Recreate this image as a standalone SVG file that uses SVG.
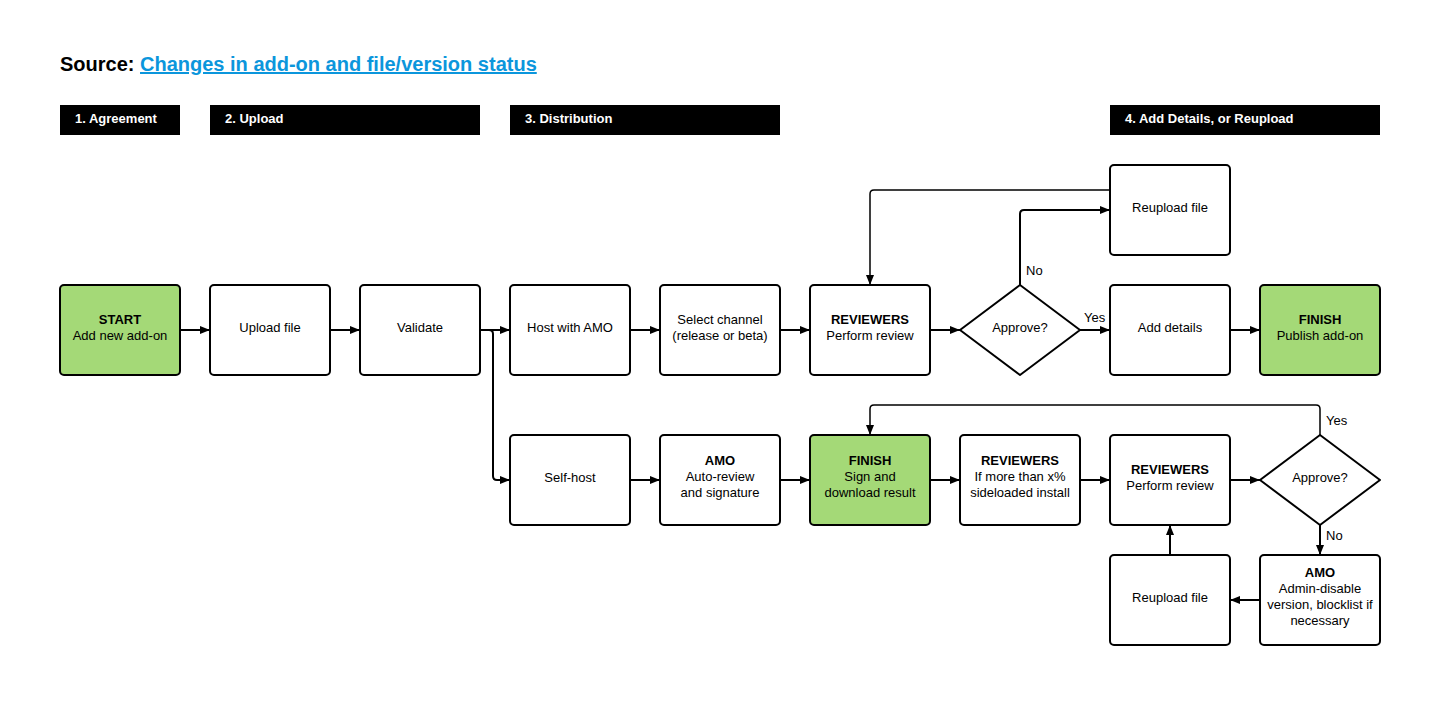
<svg xmlns="http://www.w3.org/2000/svg" width="1440" height="705" viewBox="0 0 1440 705">
<style>
.bg{fill:#ffffff}
.box{fill:#ffffff;stroke:#000000;stroke-width:2}
.green{fill:#a4d977}
.hdr{fill:#000000}
.hdrt{font-family:"Liberation Sans",Arial,sans-serif;font-size:13px;font-weight:bold;fill:#ffffff}
.t{font-family:"Liberation Sans",Arial,sans-serif;font-size:13px;fill:#000000;text-anchor:middle}
.b{font-weight:bold}
.lbl{font-family:"Liberation Sans",Arial,sans-serif;font-size:13px;fill:#000000}
.c{fill:none;stroke:#000000;stroke-width:2;stroke-linejoin:round}
.thin{stroke-width:1.5}
.title{font-family:"Liberation Sans",Arial,sans-serif;font-size:20px;font-weight:bold}
</style>
<defs>
<marker id="ah" viewBox="0 0 10 10" refX="10" refY="5" markerWidth="10" markerHeight="10" markerUnits="userSpaceOnUse" orient="auto">
<path d="M0,1 L10,5 L0,9 Z" fill="#000000"/>
</marker>
</defs>
<rect class="bg" x="0" y="0" width="1440" height="705"/>
<g id="title">
<text class="title" x="60" y="71"><tspan fill="#000000">Source: </tspan><tspan fill="#0b96dc" text-decoration="underline">Changes in add-on and file/version status</tspan></text>
</g>
<g id="headers">
<rect class="hdr" x="60" y="105" width="120" height="30"/>
<text class="hdrt" x="75" y="123">1. Agreement</text>
<rect class="hdr" x="210" y="105" width="270" height="30"/>
<text class="hdrt" x="225" y="123">2. Upload</text>
<rect class="hdr" x="510" y="105" width="270" height="30"/>
<text class="hdrt" x="525" y="123">3. Distribution</text>
<rect class="hdr" x="1110" y="105" width="270" height="30"/>
<text class="hdrt" x="1125" y="123">4. Add Details, or Reupload</text>
</g>
<g id="connectors">
<path class="c" d="M180,330 H210" marker-end="url(#ah)"/>
<path class="c" d="M330,330 H360" marker-end="url(#ah)"/>
<path class="c" d="M480,330 H510" marker-end="url(#ah)"/>
<path class="c" d="M480,330 H489 Q493,330 493,334 V476 Q493,480 497,480 H510" marker-end="url(#ah)"/>
<path class="c" d="M630,330 H660" marker-end="url(#ah)"/>
<path class="c" d="M780,330 H810" marker-end="url(#ah)"/>
<path class="c" d="M930,330 H960" marker-end="url(#ah)"/>
<path class="c" d="M1080,330 H1110" marker-end="url(#ah)"/>
<path class="c" d="M1230,330 H1260" marker-end="url(#ah)"/>
<path class="c" d="M1020,285 V214 Q1020,210 1024,210 H1110" marker-end="url(#ah)"/>
<path class="c thin" d="M1110,190 H874 Q870,190 870,194 V285" marker-end="url(#ah)"/>
<path class="c" d="M630,480 H660" marker-end="url(#ah)"/>
<path class="c" d="M780,480 H810" marker-end="url(#ah)"/>
<path class="c" d="M930,480 H960" marker-end="url(#ah)"/>
<path class="c" d="M1080,480 H1110" marker-end="url(#ah)"/>
<path class="c" d="M1230,480 H1260" marker-end="url(#ah)"/>
<path class="c thin" d="M1320,435 V409 Q1320,405 1316,405 H874 Q870,405 870,409 V435" marker-end="url(#ah)"/>
<path class="c" d="M1320,525 V555" marker-end="url(#ah)"/>
<path class="c" d="M1260,600 H1230" marker-end="url(#ah)"/>
<path class="c" d="M1170,555 V525" marker-end="url(#ah)"/>
<text class="lbl" x="1026" y="275">No</text>
<text class="lbl" x="1084" y="322">Yes</text>
<text class="lbl" x="1326" y="425">Yes</text>
<text class="lbl" x="1326" y="540">No</text>
</g>
<g id="start">
<rect class="box green" x="60" y="285" width="120" height="90" rx="4"/>
<text class="t b" x="120" y="324">START</text>
<text class="t" x="120" y="340">Add new add-on</text>
</g>
<g id="upload">
<rect class="box" x="210" y="285" width="120" height="90" rx="4"/>
<text class="t" x="270" y="332">Upload file</text>
</g>
<g id="validate">
<rect class="box" x="360" y="285" width="120" height="90" rx="4"/>
<text class="t" x="420" y="332">Validate</text>
</g>
<g id="host">
<rect class="box" x="510" y="285" width="120" height="90" rx="4"/>
<text class="t" x="570" y="332">Host with AMO</text>
</g>
<g id="channel">
<rect class="box" x="660" y="285" width="120" height="90" rx="4"/>
<text class="t" x="720" y="324">Select channel</text>
<text class="t" x="720" y="340">(release or beta)</text>
</g>
<g id="reviewers1">
<rect class="box" x="810" y="285" width="120" height="90" rx="4"/>
<text class="t b" x="870" y="324">REVIEWERS</text>
<text class="t" x="870" y="340">Perform review</text>
</g>
<g id="approve1">
<path class="box" d="M1020,285 L1080,330 L1020,375 L960,330 Z" stroke-linejoin="round"/>
<text class="t" x="1020" y="332">Approve?</text>
</g>
<g id="reupload1">
<rect class="box" x="1110" y="165" width="120" height="90" rx="4"/>
<text class="t" x="1170" y="212">Reupload file</text>
</g>
<g id="details">
<rect class="box" x="1110" y="285" width="120" height="90" rx="4"/>
<text class="t" x="1170" y="332">Add details</text>
</g>
<g id="publish">
<rect class="box green" x="1260" y="285" width="120" height="90" rx="4"/>
<text class="t b" x="1320" y="324">FINISH</text>
<text class="t" x="1320" y="340">Publish add-on</text>
</g>
<g id="selfhost">
<rect class="box" x="510" y="435" width="120" height="90" rx="4"/>
<text class="t" x="570" y="482">Self-host</text>
</g>
<g id="autoreview">
<rect class="box" x="660" y="435" width="120" height="90" rx="4"/>
<text class="t b" x="720" y="465">AMO</text>
<text class="t" x="720" y="481">Auto-review</text>
<text class="t" x="720" y="497">and signature</text>
</g>
<g id="sign">
<rect class="box green" x="810" y="435" width="120" height="90" rx="4"/>
<text class="t b" x="870" y="465">FINISH</text>
<text class="t" x="870" y="481">Sign and</text>
<text class="t" x="870" y="497">download result</text>
</g>
<g id="sideloaded">
<rect class="box" x="960" y="435" width="120" height="90" rx="4"/>
<text class="t b" x="1020" y="465">REVIEWERS</text>
<text class="t" x="1020" y="481">If more than x%</text>
<text class="t" x="1020" y="497">sideloaded install</text>
</g>
<g id="reviewers2">
<rect class="box" x="1110" y="435" width="120" height="90" rx="4"/>
<text class="t b" x="1170" y="474">REVIEWERS</text>
<text class="t" x="1170" y="490">Perform review</text>
</g>
<g id="approve2">
<path class="box" d="M1320,435 L1380,480 L1320,525 L1260,480 Z" stroke-linejoin="round"/>
<text class="t" x="1320" y="482">Approve?</text>
</g>
<g id="reupload2">
<rect class="box" x="1110" y="555" width="120" height="90" rx="4"/>
<text class="t" x="1170" y="602">Reupload file</text>
</g>
<g id="disable">
<rect class="box" x="1260" y="555" width="120" height="90" rx="4"/>
<text class="t b" x="1320" y="577">AMO</text>
<text class="t" x="1320" y="593">Admin-disable</text>
<text class="t" x="1320" y="609">version, blocklist if</text>
<text class="t" x="1320" y="625">necessary</text>
</g>
</svg>
